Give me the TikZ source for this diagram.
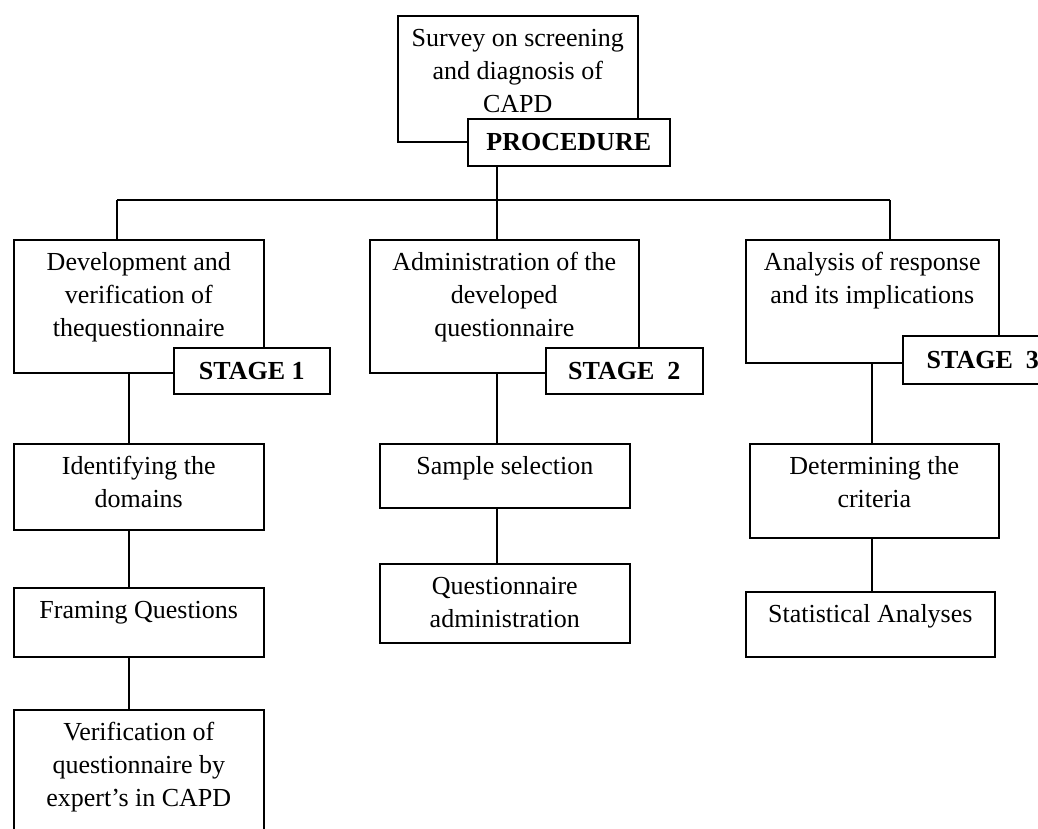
\documentclass[tikz,border=0pt]{standalone}
\usepackage{fontspec}
\setmainfont{Liberation Serif}
\usepackage{tikz}
\usetikzlibrary{positioning, calc}
\tikzset{
  block/.style={draw, fill=white, align=flush center, anchor=north west, inner sep=0pt, text height=15.5pt, line width=0.8pt},
  stagebox/.style={draw, fill=white, anchor=north west, inner sep=0pt, minimum height=23pt, line width=0.8pt, font=\fontsize{13}{16.5}\selectfont\bfseries},
  link/.style={line width=0.8pt},
  every node/.style={font=\fontsize{13}{16.5}\selectfont}
}

\begin{document}
\begin{tikzpicture}[x=0.5pt, y=-0.5pt]
    \useasboundingbox (0,0) rectangle (1038,829);

    % top
    \node[block, text width=120pt, text depth=47.5pt] (survey) at (397,15) {Survey on screening\\and diagnosis of\\CAPD};
    \node[stagebox, minimum width=101pt, minimum height=23.5pt] (proc) at (467,118) {PROCEDURE};

    % the three stages
    \node[block, text width=125pt, text depth=51pt] (dev) at (13,239) {Development and\\verification of\\thequestionnaire};
    \node[stagebox, minimum width=78pt] (stage1) at (173,347) {STAGE 1};
    \node[block, text width=134.5pt, text depth=51pt] (adm) at (369,239) {Administration of the\\developed\\questionnaire};
    \node[stagebox, minimum width=78.5pt] (stage2) at (545,347) {STAGE\ \ 2};
    \node[block, text width=126.5pt, text depth=46pt] (ana) at (745,239) {Analysis of response\\and its implications};
    \node[stagebox, minimum width=80pt, minimum height=24pt] (stage3) at (902,335) {STAGE\ \ 3};

    % stage 1 steps
    \node[block, text width=125pt, text depth=27.5pt] (ident) at (13,443) {Identifying the\\domains};
    \node[block, text width=125pt, text depth=19pt] (frame) at (13,587) {Framing Questions};
    \node[block, text width=125pt, text depth=50pt] (verif) at (13,709) {Verification of\\questionnaire by\\expert’s in CAPD};

    % stage 2 steps
    \node[block, text width=125pt, text depth=16.5pt] (sample) at (379,443) {Sample selection};
    \node[block, text width=125pt, text depth=24pt] (qadm) at (379,563) {Questionnaire\\administration};

    % stage 3 steps
    \node[block, text width=124.5pt, text depth=31.5pt] (crit) at (749,443) {Determining the\\criteria};
    \node[block, text width=124.5pt, text depth=17pt] (stat) at (745,591) {Statistical Analyses};

    % connector columns
    \coordinate (busL) at (117,200);
    \coordinate (busR) at (890,200);
    \coordinate (c1) at (129,0);
    \coordinate (c2) at (497,0);
    \coordinate (c3) at (872,0);

    \draw[link] (proc.south -| c2) -- (c2 |- busL);
    \draw[link] (busL) -- (busR);
    \draw[link] (busL) -- (busL |- dev.north);
    \draw[link] (c2 |- busL) -- (adm.north -| c2);
    \draw[link] (busR) -- (busR |- ana.north);

    \draw[link] (dev.south -| c1) -- (ident.north -| c1);
    \draw[link] (ident.south -| c1) -- (frame.north -| c1);
    \draw[link] (frame.south -| c1) -- (verif.north -| c1);
    \draw[link] (adm.south -| c2) -- (sample.north -| c2);
    \draw[link] (sample.south -| c2) -- (qadm.north -| c2);
    \draw[link] (ana.south -| c3) -- (crit.north -| c3);
    \draw[link] (crit.south -| c3) -- (stat.north -| c3);
\end{tikzpicture}
\end{document}
